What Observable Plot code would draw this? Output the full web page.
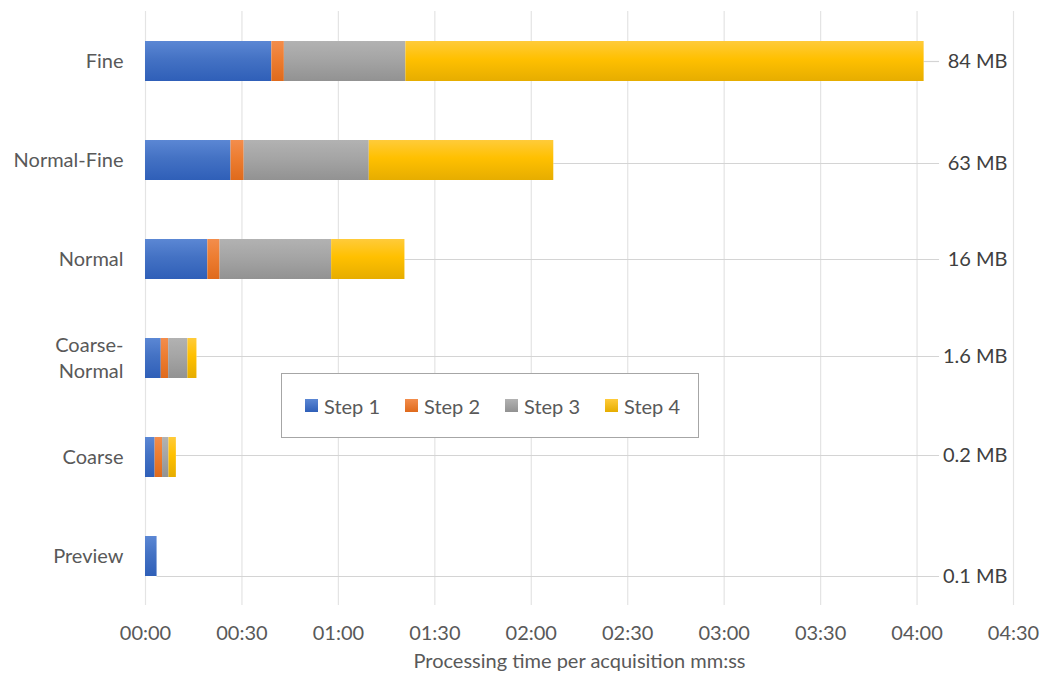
<!DOCTYPE html>
<html>
<head>
<meta charset="utf-8">
<script src="https://cdn.jsdelivr.net/npm/d3@7"></script>
<script src="https://cdn.jsdelivr.net/npm/@observablehq/plot@0.6"></script>
<style>
  html, body { margin: 0; padding: 0; background: #fff; }
  #wrap { position: relative; width: 1040px; height: 673px; font-family: Lato, "Open Sans", sans-serif; }
  #legend { position: absolute; left: 281px; top: 373px; width: 416px; height: 63px;
    border: 1.5px solid #a6a6a6; background: #fff; box-sizing: content-box; }
  #legend .item { position: absolute; top: 0; height: 63px; display: flex; align-items: center;
    font-size: 20px; color: #595959; }
  #legend .sw { width: 13px; height: 13px; margin-right: 6px; }
</style>
</head>
<body>
<div id="wrap"></div>
<script>
// ---- data ----
const categories = ["Fine", "Normal-Fine", "Normal", "Coarse-Normal", "Coarse", "Preview"];
const steps = ["Step 1", "Step 2", "Step 3", "Step 4"];
// seconds per step
const step1 = [39.3, 26.6, 19.4, 4.9, 3.0, 3.6];
const step2 = [3.9, 4.1, 3.8, 2.3, 2.3, 0];
const step3 = [37.8, 38.9, 34.7, 6.0, 2.0, 0];
const step4 = [161.2, 57.4, 22.8, 2.8, 2.3, 0];
const sizeLabels = ["84 MB", "63 MB", "16 MB", "1.6 MB", "0.2 MB", "0.1 MB"];
const xTicks = [0, 30, 60, 90, 120, 150, 180, 210, 240, 270];
const axisTitle = "Processing time per acquisition mm:ss";

// ---- styling (not data) ----
const stepColors = {
  "Step 1": ["#5b87d4", "#2f5fb8"],
  "Step 2": ["#f38d4c", "#df6a1c"],
  "Step 3": ["#b2b2b2", "#929292"],
  "Step 4": ["#ffcb3a", "#e6ad00"]
};
const legendSolid = {"Step 1": "#4472c4", "Step 2": "#ed7d31", "Step 3": "#a5a5a5", "Step 4": "#ffc000"};
const labelDy = [0, 3, 0, -2, -2, 20];
const LEADER_END = 247; // seconds position where leader lines stop

// ---- build tidy table ----
const series = [step1, step2, step3, step4];
const rows = [];
categories.forEach((c, i) => steps.forEach((s, j) => rows.push({cat: c, step: s, value: series[j][i]})));
const totals = categories.map((c, i) => series.reduce((a, arr) => a + arr[i], 0));

const fmt = s => String(Math.floor(s / 60)).padStart(2, "0") + ":" + String(Math.round(s % 60)).padStart(2, "0");
const gradId = s => "grad" + s.replace(/\s/g, "");

const leaderMarks = categories.map((c, i) =>
  Plot.ruleY([c], {x1: totals[i], x2: LEADER_END, stroke: "#d4d4d4", strokeWidth: 1.2, dy: labelDy[i]}));
const sizeTextMarks = categories.map((c, i) =>
  Plot.text([c], {y: d => d, text: () => sizeLabels[i], frameAnchor: "right", textAnchor: "end",
    dx: -6, dy: labelDy[i], fill: "#404040", fontSize: 20}));

const chart = Plot.plot({
  width: 1040,
  height: 673,
  marginLeft: 145,
  marginRight: 27,
  marginTop: 11,
  marginBottom: 68,
  style: {fontFamily: "Lato, 'Open Sans', sans-serif", fontSize: "20px", color: "#595959", background: "#fff"},
  x: {domain: [0, 270], ticks: xTicks, tickFormat: fmt, tickSize: 0, tickPadding: 20,
      label: axisTitle, labelArrow: false, labelAnchor: "center", labelOffset: 62},
  y: {domain: categories, axis: null, paddingInner: 0.6, paddingOuter: 0.3},
  color: {domain: steps, range: steps.map(s => `url(#${gradId(s)})`)},
  marks: [
    Plot.ruleX(xTicks, {stroke: "#e4e4e4", strokeWidth: 1.2}),
    ...leaderMarks,
    Plot.barX(rows, Plot.stackX({x: "value", y: "cat", fill: "step", order: steps})),
    Plot.text(categories, {y: d => d, text: d => d === "Coarse-Normal" ? "Coarse-\nNormal" : d,
      frameAnchor: "left", textAnchor: "end", dx: -22, dy: -2, lineHeight: 1.33, fill: "#595959", fontSize: 20}),
    ...sizeTextMarks
  ]
});

// gradients
const svg = chart.tagName.toLowerCase() === "svg" ? chart : chart.querySelector("svg");
const ns = "http://www.w3.org/2000/svg";
const defs = document.createElementNS(ns, "defs");
steps.forEach(s => {
  const g = document.createElementNS(ns, "linearGradient");
  g.setAttribute("id", gradId(s));
  g.setAttribute("x1", "0"); g.setAttribute("y1", "0"); g.setAttribute("x2", "0"); g.setAttribute("y2", "1");
  [[0, stepColors[s][0]], [0.45, legendSolid[s]], [1, stepColors[s][1]]].forEach(([o, col]) => {
    const st = document.createElementNS(ns, "stop");
    st.setAttribute("offset", o); st.setAttribute("stop-color", col);
    g.appendChild(st);
  });
  defs.appendChild(g);
});
svg.insertBefore(defs, svg.firstChild);

const wrap = document.getElementById("wrap");
wrap.appendChild(chart);

// legend
const legend = document.createElement("div");
legend.id = "legend";
steps.forEach((s, j) => {
  const item = document.createElement("div");
  item.className = "item";
  item.style.left = (23 + j * 100) + "px";
  const sw = document.createElement("div");
  sw.className = "sw";
  sw.style.background = `linear-gradient(${stepColors[s][0]}, ${stepColors[s][1]})`;
  item.appendChild(sw);
  item.appendChild(document.createTextNode(s));
  legend.appendChild(item);
});
wrap.appendChild(legend);
</script>
</body>
</html>
